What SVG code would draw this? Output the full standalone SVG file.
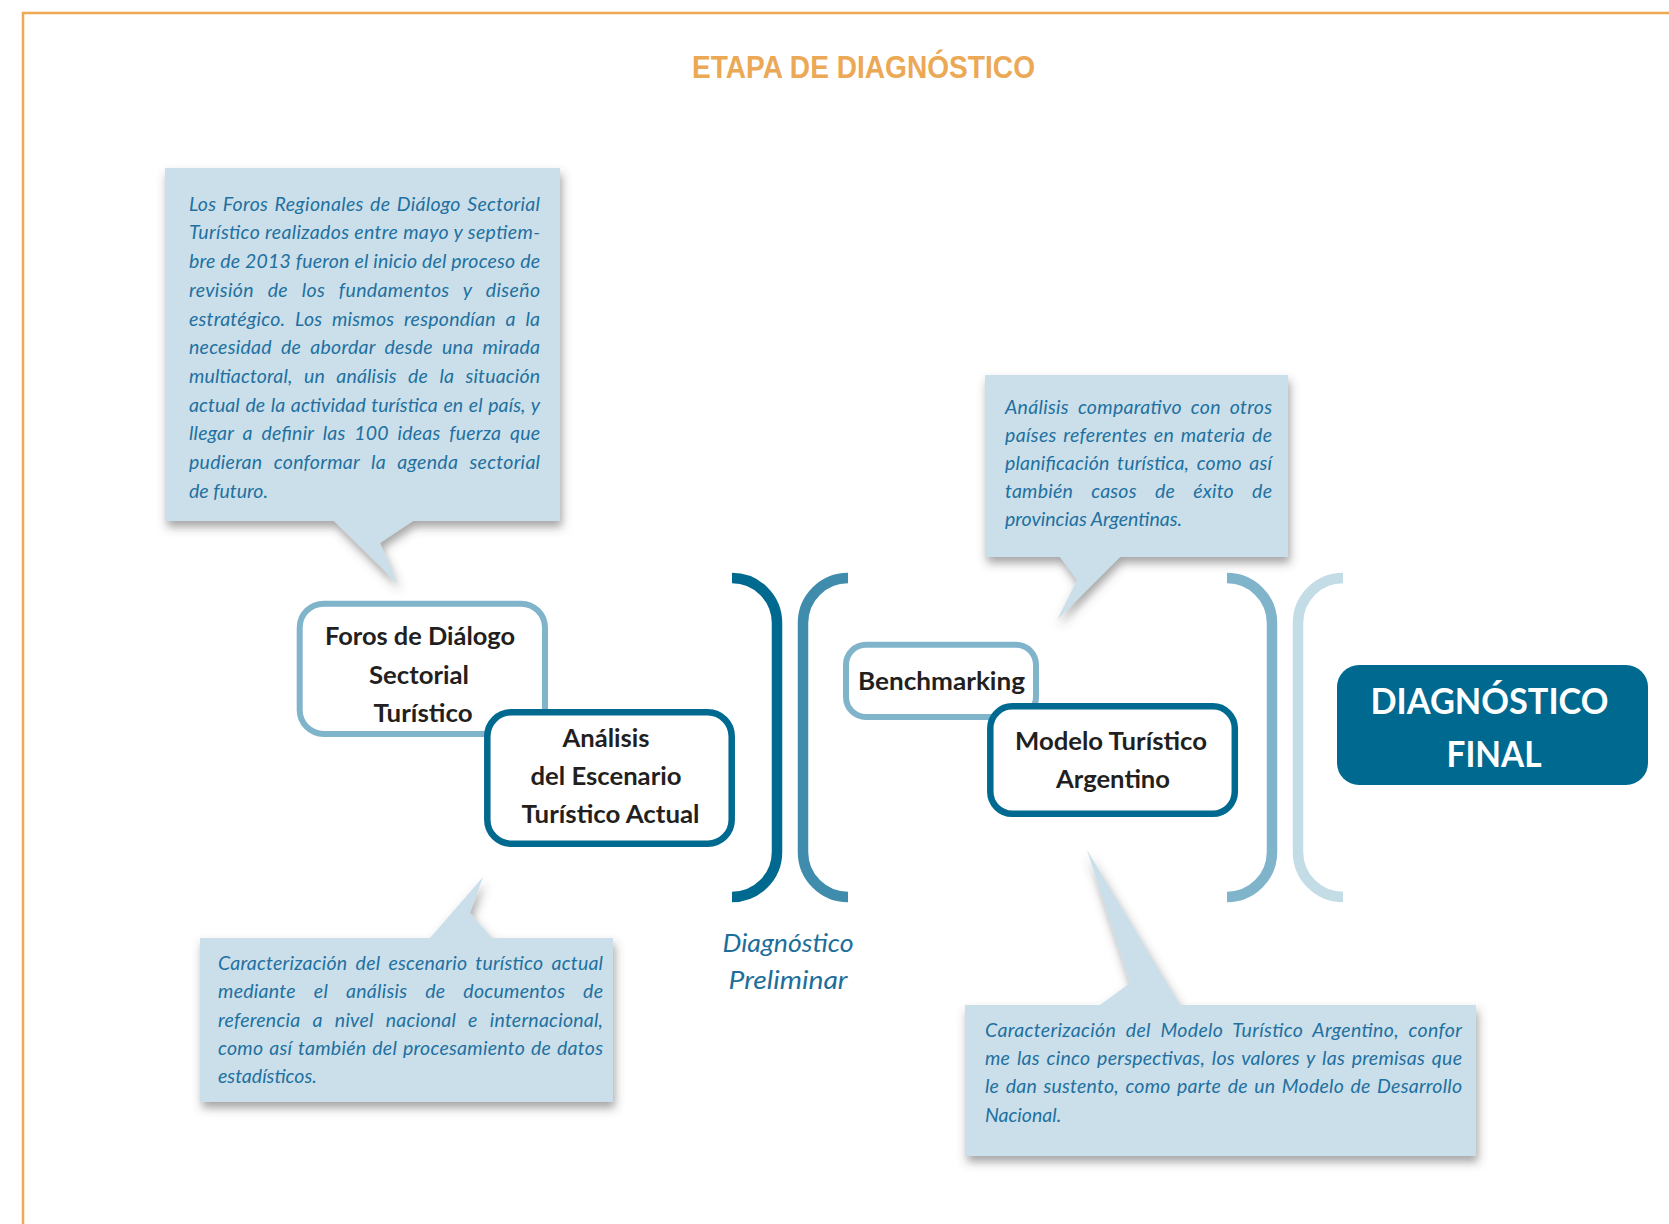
<svg xmlns="http://www.w3.org/2000/svg" width="1669" height="1224" viewBox="0 0 1669 1224">
<defs>
<filter id="sh" x="-10%" y="-10%" width="125%" height="130%">
<feDropShadow dx="2" dy="6" stdDeviation="5" flood-color="#4a4a4a" flood-opacity="0.5"/>
</filter>
<style>
.border{fill:none;stroke:#EDA953;stroke-width:2.5}
.title{font-family:"Liberation Sans",Arial,sans-serif;font-weight:700;font-size:32px;fill:#EBA855}
.callout{fill:#CADFEA;filter:url(#sh)}
.ct{font-family:Lato,"Liberation Sans",sans-serif;font-style:italic;font-size:19.5px;fill:#2270A0}
.nl{fill:#fff;stroke:#80B4CA;stroke-width:6}
.nd{fill:#fff;stroke:#00698F;stroke-width:6.5}
.nt{font-family:Lato,"Liberation Sans",sans-serif;font-weight:700;font-size:25px;fill:#231F20;text-anchor:middle}
.ft{font-family:Lato,"Liberation Sans",sans-serif;font-weight:700;font-size:36px;fill:#fff;text-anchor:middle}
.br{fill:none;stroke-width:10.5;stroke-linecap:butt}
.pl{font-family:Lato,"Liberation Sans",sans-serif;font-style:italic;font-size:26px;fill:#1D6E9A;text-anchor:middle}
</style>
</defs>
<rect width="1669" height="1224" fill="#fff"/>
<g id="frame">
<path class="border" d="M23,1224 V13 H1669"/>
<text class="title" x="692" y="78" textLength="343" lengthAdjust="spacingAndGlyphs">ETAPA DE DIAGNÓSTICO</text>
</g>
<g id="callout-foros">
<path class="callout" d="M165,168 H560 V521 H413 L380,543 L398,584 L334,521 H165 Z"/>
<text class="ct">
<tspan x="189" y="210.7" word-spacing="1.6" textLength="351" lengthAdjust="spacing">Los Foros Regionales de Diálogo Sectorial</tspan>
<tspan x="189" y="239.4" textLength="351" lengthAdjust="spacing">Turístico realizados entre mayo y septiem-</tspan>
<tspan x="189" y="268.1" textLength="351" lengthAdjust="spacing">bre de 2013 fueron el inicio del proceso de</tspan>
<tspan x="189" y="296.8" word-spacing="8.8" textLength="351" lengthAdjust="spacing">revisión de los fundamentos y diseño</tspan>
<tspan x="189" y="325.5" word-spacing="4.9" textLength="351" lengthAdjust="spacing">estratégico. Los mismos respondían a la</tspan>
<tspan x="189" y="354.2" word-spacing="4.3" textLength="351" lengthAdjust="spacing">necesidad de abordar desde una mirada</tspan>
<tspan x="189" y="382.9" word-spacing="6.7" textLength="351" lengthAdjust="spacing">multiactoral, un análisis de la situación</tspan>
<tspan x="189" y="411.6" word-spacing="1" textLength="351" lengthAdjust="spacing">actual de la actividad turística en el país, y</tspan>
<tspan x="189" y="440.3" word-spacing="4.1" textLength="351" lengthAdjust="spacing">llegar a definir las 100 ideas fuerza que</tspan>
<tspan x="189" y="469" word-spacing="6.6" textLength="351" lengthAdjust="spacing">pudieran conformar la agenda sectorial</tspan>
<tspan x="189" y="497.7">de futuro.</tspan>
</text>
</g>
<g id="callout-escenario">
<path class="callout" d="M200,938 H430 L483,877 L470,913 L492,938 H613 V1102 H200 Z"/>
<text class="ct">
<tspan x="218" y="970" word-spacing="3.4" textLength="385" lengthAdjust="spacing">Caracterización del escenario turístico actual</tspan>
<tspan x="218" y="998.3" word-spacing="13" textLength="385" lengthAdjust="spacing">mediante el análisis de documentos de</tspan>
<tspan x="218" y="1026.7" word-spacing="7.3" textLength="385" lengthAdjust="spacing">referencia a nivel nacional e internacional,</tspan>
<tspan x="218" y="1055" word-spacing="1" textLength="385" lengthAdjust="spacing">como así también del procesamiento de datos</tspan>
<tspan x="218" y="1083.3">estadísticos.</tspan>
</text>
</g>
<g id="callout-benchmarking">
<path class="callout" d="M985,375 H1288 V557 H1120 L1057,620 L1077,580 L1060,557 H985 Z"/>
<text class="ct">
<tspan x="1005" y="414" word-spacing="4.1" textLength="267" lengthAdjust="spacing">Análisis comparativo con otros</tspan>
<tspan x="1005" y="441.9" word-spacing="1.7" textLength="267" lengthAdjust="spacing">países referentes en materia de</tspan>
<tspan x="1005" y="469.8" word-spacing="2.9" textLength="267" lengthAdjust="spacing">planificación turística, como así</tspan>
<tspan x="1005" y="497.7" word-spacing="13.4" textLength="267" lengthAdjust="spacing">también casos de éxito de</tspan>
<tspan x="1005" y="525.6">provincias Argentinas.</tspan>
</text>
</g>
<g id="callout-modelo">
<path class="callout" d="M965,1005 H1100 L1130,983 L1087,850 L1180,1005 H1476 V1156 H965 Z"/>
<text class="ct">
<tspan x="985" y="1036.7" word-spacing="4.7" textLength="477" lengthAdjust="spacing">Caracterización del Modelo Turístico Argentino, confor</tspan>
<tspan x="985" y="1065" word-spacing="1.9" textLength="477" lengthAdjust="spacing">me las cinco perspectivas, los valores y las premisas que</tspan>
<tspan x="985" y="1093.3" word-spacing="1.7" textLength="477" lengthAdjust="spacing">le dan sustento, como parte de un Modelo de Desarrollo</tspan>
<tspan x="985" y="1121.7">Nacional.</tspan>
</text>
</g>
<g id="connectors">
<path class="br" stroke="#00698F" d="M732,578 A45,45 0 0 1 777,623 V852 A45,45 0 0 1 732,897"/>
<path class="br" stroke="#3F8CAC" d="M848,578 A45,45 0 0 0 803,623 V852 A45,45 0 0 0 848,897"/>
<path class="br" stroke="#80B4CA" d="M1227,578 A45,45 0 0 1 1272,623 V852 A45,45 0 0 1 1227,897"/>
<path class="br" stroke="#C3DCE6" d="M1343,578 A45,45 0 0 0 1298,623 V852 A45,45 0 0 0 1343,897"/>
</g>
<g id="node-foros">
<rect class="nl" x="299.7" y="603.7" width="245.3" height="130.3" rx="24"/>
<text class="nt" x="420" y="645" textLength="190" lengthAdjust="spacingAndGlyphs">Foros de Diálogo</text>
<text class="nt" x="419" y="683.5" textLength="100" lengthAdjust="spacingAndGlyphs">Sectorial</text>
<text class="nt" x="423" y="722" textLength="99" lengthAdjust="spacingAndGlyphs">Turístico</text>
</g>
<g id="node-analisis">
<rect class="nd" x="487.3" y="712.3" width="244.4" height="131.4" rx="24"/>
<text class="nt" x="606" y="747" textLength="87" lengthAdjust="spacingAndGlyphs">Análisis</text>
<text class="nt" x="606" y="785" textLength="151" lengthAdjust="spacingAndGlyphs">del Escenario</text>
<text class="nt" x="610.5" y="823" textLength="178" lengthAdjust="spacingAndGlyphs">Turístico Actual</text>
</g>
<g id="label-preliminar">
<text class="pl" x="788" y="951.7" textLength="131" lengthAdjust="spacingAndGlyphs">Diagnóstico</text>
<text class="pl" x="788" y="989" textLength="119" lengthAdjust="spacingAndGlyphs">Preliminar</text>
</g>
<g id="node-benchmarking">
<rect class="nl" x="846" y="644.7" width="190" height="72.3" rx="20"/>
<text class="nt" x="941.5" y="690" textLength="167" lengthAdjust="spacingAndGlyphs">Benchmarking</text>
</g>
<g id="node-modelo">
<rect class="nd" x="990.3" y="706.3" width="244.5" height="107.5" rx="22"/>
<text class="nt" x="1111" y="750" textLength="192" lengthAdjust="spacingAndGlyphs">Modelo Turístico</text>
<text class="nt" x="1113" y="788" textLength="114" lengthAdjust="spacingAndGlyphs">Argentino</text>
</g>
<g id="node-final">
<rect x="1337" y="665" width="311" height="120" rx="22" fill="#00698F"/>
<text class="ft" x="1489.5" y="714" textLength="238" lengthAdjust="spacingAndGlyphs">DIAGNÓSTICO</text>
<text class="ft" x="1494" y="767" textLength="95" lengthAdjust="spacingAndGlyphs">FINAL</text>
</g>
</svg>
